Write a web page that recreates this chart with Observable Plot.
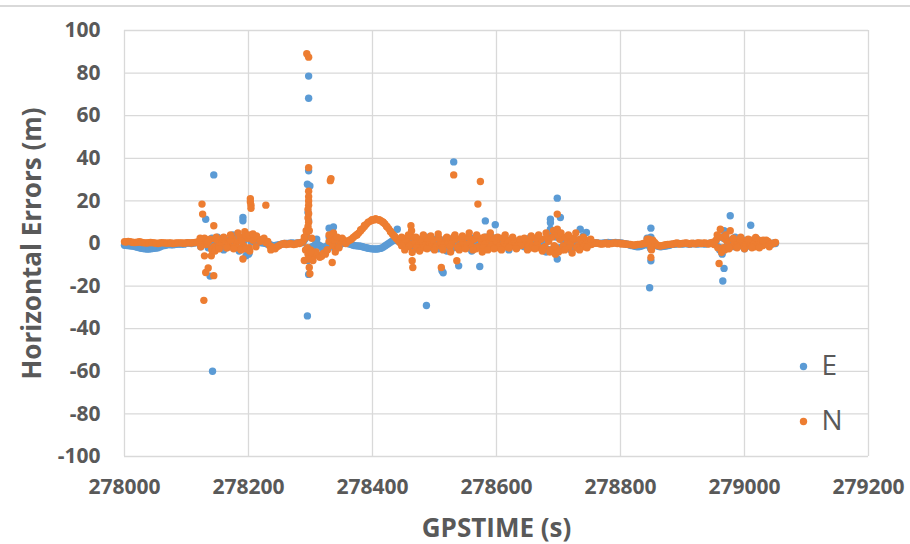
<!DOCTYPE html>
<html>
<head>
<meta charset="utf-8">
<script src="https://cdn.jsdelivr.net/npm/d3@7"></script>
<script src="https://cdn.jsdelivr.net/npm/@observablehq/plot@0.6"></script>
<style>
  body { margin: 0; background: #fff; }
  #c { position: relative; width: 910px; height: 544px; background: #fff; overflow: hidden; }
  #topline { position: absolute; left: 0; top: 5px; width: 910px; height: 2px; background: #d9d9d9; z-index: 2; }
</style>
</head>
<body>
<div id="c"><div id="topline"></div></div>
<script>
const seriesNames = ["E", "N"];
const seriesColors = ["#5b9bd5", "#ed7d31"];
const xTitle = "GPSTIME (s)";
const yTitle = "Horizontal Errors (m)";
const xTicks = [278000, 278200, 278400, 278600, 278800, 279000, 279200];
const yTicks = [-100, -80, -60, -40, -20, 0, 20, 40, 60, 80, 100];

// dense band: sample times (s)
const bandTime = [
278000,278006,278012,278018,278024,278030,278036,278042,278048,278054,
278060,278066,278072,278078,278084,278090,278096,278102,278108,278114,
278120,278126,278132,278138,278144,278150,278156,278162,278168,278174,
278180,278186,278192,278198,278204,278210,278216,278222,278228,278234,
278240,278246,278252,278258,278264,278270,278276,278282,278288,278294,
278300,278306,278312,278318,278324,278330,278336,278342,278348,278354,
278360,278366,278372,278378,278384,278390,278396,278402,278408,278414,
278420,278426,278432,278438,278444,278450,278456,278462,278468,278474,
278480,278486,278492,278498,278504,278510,278516,278522,278528,278534,
278540,278546,278552,278558,278564,278570,278576,278582,278588,278594,
278600,278606,278612,278618,278624,278630,278636,278642,278648,278654,
278660,278666,278672,278678,278684,278690,278696,278702,278708,278714,
278720,278726,278732,278738,278744,278750,278756,278762,278768,278774,
278780,278786,278792,278798,278804,278810,278816,278822,278828,278834,
278840,278846,278852,278858,278864,278870,278876,278882,278888,278894,
278900,278906,278912,278918,278924,278930,278936,278942,278948,278954,
278960,278966,278972,278978,278984,278990,278996,279002,279008,279014,
279020,279026,279032,279038,279044,279050];

// E error (m) at band times
const eBand = [
-0.8,-1.0,-1.2,-1.5,-2.0,-2.4,-2.6,-2.5,-2.2,-2.0,
-1.2,-0.8,-0.5,-0.6,-0.4,-0.2,-0.3,0.2,0.0,0.3,
0.5,0.8,1.5,-1.0,1.0,-0.5,0.8,-1.0,0.5,-0.5,
1.5,2.0,1.0,-3.0,1.0,0.5,0.5,0.3,0.0,-0.5,
-1.0,-0.8,-0.5,0.0,0.0,0.2,0.0,0.3,0.5,3.0,
-2.0,-1.0,-0.5,-1.5,-2.0,3.0,2.0,1.0,-0.5,0.5,
0.0,-0.5,-1.0,-1.2,-1.5,-2.0,-2.4,-2.6,-2.6,-2.2,
-1.2,0.0,1.2,1.6,0.8,0.0,-0.5,0.5,-1.0,0.5,
-0.5,0.0,1.0,-0.5,-1.0,0.5,-1.5,0.5,1.0,-1.0,
0.5,-0.5,1.0,0.0,-1.0,1.5,2.0,3.0,-1.0,1.0,
-1.5,0.5,-0.5,0.0,1.0,-0.5,0.0,-1.0,0.5,-0.5,
0.0,1.0,-1.0,0.5,2.0,4.0,3.0,-2.0,1.0,-1.5,
0.5,-1.0,1.5,0.5,-0.5,0.0,0.3,0.2,0.0,0.2,
0.5,0.3,0.5,0.3,0.0,-0.3,-0.8,-1.2,-1.5,-1.2,
-0.5,-1.0,0.5,-1.0,-1.5,-1.3,-1.0,-0.5,-0.3,0.0,
-0.2,0.0,-0.3,0.0,-0.2,0.0,-0.2,0.0,0.3,1.0,
-2.0,2.5,-1.0,0.5,-1.5,0.0,-1.0,0.5,-1.2,0.5,
-0.5,0.0,-0.5,0.3,-0.3,0.0];

// N error (m) at band times
const nBand = [
0.8,1.0,0.6,0.5,0.8,0.4,0.2,0.5,0.3,0.0,
0.4,0.2,0.3,0.0,0.2,0.3,0.1,0.4,0.2,0.5,
0.8,1.5,-0.5,2.0,-1.5,1.5,0.0,1.2,-1.0,2.5,
0.5,3.0,-1.0,2.5,3.0,2.5,2.0,1.5,0.5,-1.0,
-2.0,-1.5,-0.5,0.0,-0.3,-0.2,-0.3,0.0,1.0,5.0,
-3.0,-5.0,-5.5,-6.0,-5.0,1.0,-1.0,2.0,0.5,1.5,
1.0,2.0,3.6,5.0,7.0,9.0,10.4,11.0,11.2,10.6,
9.2,7.0,4.5,2.5,0.5,0.0,1.0,-0.5,0.5,-1.0,
1.0,-0.5,0.0,1.5,-1.0,0.5,-0.5,1.0,0.0,2.0,
-1.0,1.0,-0.5,0.5,2.0,-1.5,1.0,0.0,2.0,-0.5,
1.0,-1.0,0.5,1.5,-0.5,0.5,1.0,-0.5,0.0,1.5,
-1.0,0.5,2.0,-1.5,1.0,3.0,-2.0,2.0,-1.0,1.5,
0.0,2.0,-1.0,1.0,-0.5,0.5,0.0,0.3,-0.2,0.0,
-0.3,0.0,0.3,0.2,0.0,-0.2,-0.5,-0.8,-0.5,-0.3,
0.0,1.0,-1.0,-0.5,-1.2,-0.8,-0.5,-0.3,0.0,-0.2,
0.0,0.2,-0.2,0.0,0.3,0.0,0.2,-0.2,0.5,1.5,
3.0,-2.0,1.0,-1.5,0.5,-1.0,1.5,0.0,-1.0,1.0,
0.0,0.5,-0.5,1.0,0.0,0.5];

// second (interleaved) band samples
const bandTime2 = [
278003,278009,278015,278021,278027,278033,278039,278045,278051,278057,
278063,278069,278075,278081,278087,278093,278099,278105,278111,278117,
278123,278129,278135,278141,278147,278153,278159,278165,278171,278177,
278183,278189,278195,278201,278207,278213,278219,278225,278231,278237,
278243,278249,278255,278261,278267,278273,278279,278285,278291,278297,
278303,278309,278315,278321,278327,278333,278339,278345,278351,278357,
278363,278369,278375,278381,278387,278393,278399,278405,278411,278417,
278423,278429,278435,278441,278447,278453,278459,278465,278471,278477,
278483,278489,278495,278501,278507,278513,278519,278525,278531,278537,
278543,278549,278555,278561,278567,278573,278579,278585,278591,278597,
278603,278609,278615,278621,278627,278633,278639,278645,278651,278657,
278663,278669,278675,278681,278687,278693,278699,278705,278711,278717,
278723,278729,278735,278741,278747,278753,278759,278765,278771,278777,
278783,278789,278795,278801,278807,278813,278819,278825,278831,278837,
278843,278849,278855,278861,278867,278873,278879,278885,278891,278897,
278903,278909,278915,278921,278927,278933,278939,278945,278951,278957,
278963,278969,278975,278981,278987,278993,278999,279005,279011,279017,
279023,279029,279035,279041,279047];

const eBand2 = [
-0.9,-1.1,-1.3,-1.8,-2.2,-2.5,-2.6,-2.4,-2.1,-1.6,
-1.0,-0.6,-0.6,-0.5,-0.3,-0.2,0.0,0.1,0.2,0.4,
-1.5,2.0,-2.0,2.5,-1.5,2.0,-2.0,1.5,-1.5,2.5,
-2.0,3.0,-2.5,-4.5,2.0,1.0,0.4,0.2,-0.3,-0.8,
-0.9,-0.6,-0.2,0.0,0.1,0.1,0.2,0.4,2.0,-3.0,
-1.5,0.5,-1.0,-2.0,-1.0,4.0,-2.5,0.5,0.0,0.3,
-0.2,-0.8,-1.1,-1.3,-1.8,-2.2,-2.5,-2.6,-2.4,-1.8,
-0.6,0.6,1.5,1.2,0.4,-1.5,1.5,-2.0,1.5,-2.0,
2.0,-1.5,-2.0,2.0,-2.5,1.5,-1.0,2.0,-2.0,1.5,
-2.0,2.0,-1.5,2.5,-2.0,1.0,-2.5,2.0,-1.5,2.5,
1.5,-2.0,2.0,-1.5,1.5,-2.0,1.0,-1.5,2.0,-1.5,
-2.0,2.5,1.5,-2.5,-3.0,5.0,-2.5,2.5,-2.0,1.5,
-2.0,1.5,-1.5,1.0,-1.0,0.5,0.3,0.1,0.1,0.3,
0.4,0.4,0.4,0.2,-0.1,-0.5,-1.0,-1.4,-1.4,-0.8,
2.5,-2.5,-0.5,-1.3,-1.4,-1.2,-0.8,-0.4,-0.1,-0.1,
-0.1,-0.2,-0.1,-0.1,-0.1,-0.1,-0.1,0.1,0.5,-1.5,
3.0,-2.5,1.5,-1.0,1.0,-1.0,1.5,-1.0,1.0,-0.5,
0.5,-0.5,0.0,-0.2,0.2];

const nBand2 = [
0.7,0.9,0.5,0.6,0.6,0.3,0.4,0.4,0.1,0.2,
0.3,0.1,0.2,0.1,0.3,0.2,0.2,0.3,0.4,0.6,
-1.5,2.5,1.0,-2.5,2.0,-1.0,2.5,-2.0,1.5,-1.5,
-2.0,1.0,4.0,-2.0,1.5,3.5,1.0,2.5,1.0,-1.5,
-2.5,-1.0,-0.2,-0.5,0.0,-0.5,0.2,0.5,2.5,-4.0,
-6.5,-4.0,-6.5,-4.5,-3.0,3.0,1.5,-1.5,2.5,0.0,
1.5,2.8,4.3,6.0,8.0,10.0,11.0,11.5,11.0,10.0,
8.0,5.8,3.5,1.5,-1.0,2.0,-1.5,3.0,-2.0,2.0,
-2.0,2.5,-1.5,-2.0,2.5,-2.0,2.5,-1.5,3.0,-2.0,
2.5,-2.0,3.0,-1.5,-2.5,2.5,-2.0,3.0,-1.5,2.5,
-2.0,2.5,-1.5,-2.0,2.0,-1.5,-1.0,2.0,-1.5,-2.0,
2.5,-2.0,-2.5,3.0,-3.0,-1.0,4.0,-3.0,3.0,-2.0,
2.5,-2.0,2.0,-1.5,1.5,-0.5,0.2,0.0,-0.2,0.2,
0.0,0.2,0.0,-0.2,-0.3,-0.5,-0.7,-0.6,-0.4,0.0,
2.0,-2.0,0.5,-1.0,-1.0,-0.6,-0.4,-0.2,0.2,-0.1,
0.1,0.0,0.1,-0.1,0.2,0.1,0.0,0.2,-0.5,-2.0,
-3.0,2.0,-2.5,2.0,-1.5,2.0,-1.5,1.5,1.5,-1.5,
1.5,-1.0,1.5,-0.5,0.0];

// E extra points: outliers and noise [time, error]
const eExtra = [
[278131,11.4],[278138,-15.3],[278142,-60],[278144,32.2],[278191,12.2],[278191,10.7],[278196,-5.8],
[278150,3],[278160,-3],[278175,4],[278185,-3.5],[278200,-5],
[278295,-34],[278295,27.8],[278299,27],[278297,78.6],[278297,68.2],[278297,34.1],[278296,14.5],
[278297,10.6],[278297,-14.5],[278296,-8],[278310,2],[278320,-3],[278330,7.2],[278337,7.8],
[278440,6.7],[278455,2.5],[278470,-2.5],[278487,-29.1],[278490,3],[278514,-13.7],[278512,-12.8],
[278520,-3.5],[278531,38.3],[278539,-10.5],[278545,3],[278560,-3.5],[278573,-10.8],[278582,10.6],
[278590,4],[278598,8.8],[278620,-3],[278655,3],[278680,-4],[278687,11.4],[278687,9.8],[278687,6.7],
[278698,21.3],[278703,12.2],[278698,-7.3],[278700,4.5],[278720,-3],[278735,6.7],[278740,3.5],
[278745,5.2],[278849,7.2],[278849,3],[278849,-2.5],[278849,-8.1],[278847,-20.8],[278960,-3],
[278964,-5],[278967,6],[278967,-11.7],[278965,-17.6],[278977,13],[278985,3],[279000,-2.5],
[279010,8.6],[279020,2]];

// N extra points: outliers and noise [time, error]
const nExtra = [
[278122,2.5],[278125,18.5],[278126,13.8],[278128,-26.7],[278129,-5.8],[278131,-13.6],[278135,-11.5],
[278140,-5.8],[278141,-3],[278144,8.3],[278144,-15.1],[278146,-3.5],[278148,3.0],[278153,-2.5],
[278160,3.0],[278165,-2],[278171,4],[278176,-2.5],[278183,5.0],[278188,-3.0],[278191,-7.3],
[278194,5.5],[278196,-2.5],[278200,4.0],[278202,-3.5],[278203,21],[278203,19.5],[278204,18],
[278204,16.5],[278207,4.5],[278212,-1.5],[278228,18],[278236,-3],
[278290,3],[278292,-3],[278293,6],[278294,89.1],[278297,87.5],[278297,35.6],[278297,24.5],
[278297,22],[278297,20],[278297,18],[278296,16],[278297,14],[278296,12],[278297,10],[278296,8],
[278298,6],[278295,-2],[278296,-5],[278297,-7.3],[278298,-11.3],[278299,-14.2],[278300,-4],
[278290,-8],[278302,2.5],[278304,-8],
[278327,-3],[278330,4],[278332,29.5],[278333,30.4],[278335,-8.9],[278337,5],[278340,-4],
[278343,3],[278346,-2],
[278375,4.0],[278381,6.5],[278387,8.5],[278399,11],[278405,11.5],[278411,11],[278417,10],
[278423,8],[278429,5.5],[278435,3.5],
[278447,3],[278452,-3],[278458,4],[278462,8.3],[278463,6],[278464,-4.2],[278464,-8.1],
[278465,-11.3],[278470,3],[278476,-3.5],[278482,4],[278488,-2.5],[278494,3.5],[278500,-3],
[278506,4.5],[278511,-11.3],[278514,-3],[278520,3],[278526,-4],[278531,32.2],[278533,4],
[278536,-8.1],[278540,-3],[278545,3.5],[278550,-2.5],[278556,5],[278562,-3],[278568,4],
[278570,18.5],[278574,29.1],[278577,-4],[278580,3],[278586,-3],[278590,5],[278596,-2.5],
[278602,3],[278608,-3],[278614,4],[278620,-2],[278626,3],[278632,-2.5],[278638,2],
[278645,2.5],[278650,-3],[278656,3.5],[278662,-2.5],[278668,4],[278674,-3.5],[278680,5],
[278686,-4],[278692,6],[278695,-5],[278698,13.8],[278698,6.7],[278700,-4],[278704,5],
[278710,-3],[278716,4],[278722,-4.5],[278728,5],[278734,-3],[278740,3],[278746,-2],[278752,2],
[278846,2],[278849,-6.6],[278850,-3],[278852,1.5],
[278956,4],[278959,-9.4],[278961,6.7],[278963,-4.2],[278965,3],[278968,-3],[278970,4],
[278977,6],[278975,-2],[278982,2.5],[278988,-2],[278994,3],[279000,-2.5],[279006,2],
[279012,-2],[279018,2.8],[279024,-2],[279030,1.5],[279040,-1.5]];

const toRows = (times, vals) => times.map((t, i) => ({t, v: vals[i]}));
const eData = toRows(bandTime, eBand).concat(toRows(bandTime2, eBand2), eExtra.map(([t, v]) => ({t, v})));
const nData = toRows(bandTime, nBand).concat(toRows(bandTime2, nBand2), nExtra.map(([t, v]) => ({t, v})));

const txt = "#595959";
const R = 3.7;
const chart = Plot.plot({
  width: 910,
  height: 544,
  marginLeft: 124,
  marginRight: 42,
  marginTop: 30,
  marginBottom: 88,
  x: {domain: [278000, 279200], axis: null},
  y: {domain: [-100, 100], axis: null},
  style: {fontFamily: "'Open Sans', sans-serif", background: "transparent", overflow: "visible"},
  marks: [
    Plot.ruleX(xTicks, {x: d => d, stroke: "#d9d9d9", strokeWidth: 1.3}),
    Plot.ruleY(yTicks, {y: d => d, stroke: "#d9d9d9", strokeWidth: 1.3}),
    Plot.dot(eData, {x: "t", y: "v", r: R, fill: seriesColors[0]}),
    Plot.dot(nData, {x: "t", y: "v", r: R, fill: seriesColors[1]}),
    Plot.text(xTicks, {x: d => d, text: d => String(d), frameAnchor: "bottom", lineAnchor: "middle", dy: 31, fontSize: 21, fontWeight: 700, fill: txt}),
    Plot.text(yTicks, {y: d => d, text: d => String(d), frameAnchor: "left", textAnchor: "end", lineAnchor: "middle", dx: -24, fontSize: 21, fontWeight: 700, fill: txt}),
    Plot.text([xTitle], {text: d => d, frameAnchor: "bottom", textAnchor: "middle", lineAnchor: "middle", dy: 72, fontSize: 26, fontWeight: 700, fill: txt}),
    Plot.text([yTitle], {text: d => d, frameAnchor: "left", textAnchor: "middle", lineAnchor: "middle", dx: -92, rotate: -90, fontSize: 26, fontWeight: 700, fill: txt}),
    Plot.dot([seriesNames[0]], {frameAnchor: "right", dx: -65, dy: 123, r: R, fill: seriesColors[0]}),
    Plot.dot([seriesNames[1]], {frameAnchor: "right", dx: -65, dy: 178, r: R, fill: seriesColors[1]}),
    Plot.text([seriesNames[0]], {text: d => d, frameAnchor: "right", textAnchor: "start", lineAnchor: "middle", dx: -47, dy: 123, fontSize: 28, fill: txt}),
    Plot.text([seriesNames[1]], {text: d => d, frameAnchor: "right", textAnchor: "start", lineAnchor: "middle", dx: -47, dy: 178, fontSize: 28, fill: txt})
  ]
});
document.getElementById("c").appendChild(chart);
</script>
</body>
</html>
